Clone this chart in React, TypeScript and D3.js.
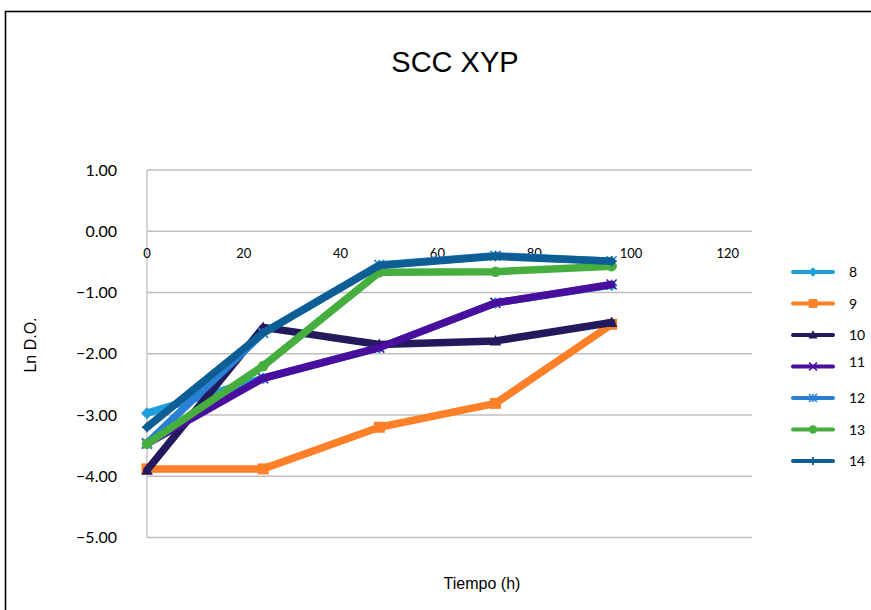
import React from "react";
import * as d3 from "d3";

const hours = [0, 24, 48, 72, 96];
const seriesNames = ["8", "9", "10", "11", "12", "13", "14"];
const s8 = [-2.97, -2.4, -1.9, -1.17, -0.88];
const s9 = [-3.88, -3.88, -3.2, -2.81, -1.52];
const s10 = [-3.9, -1.57, -1.85, -1.79, -1.49];
const s11 = [-3.47, -2.4, -1.9, -1.17, -0.87];
const s12 = [-3.46, -1.66, -0.55, -0.4, -0.49];
const s13 = [-3.47, -2.2, -0.67, -0.66, -0.57];
const s14 = [-3.2, -1.66, -0.56, -0.41, -0.49];
const seriesValues = [s8, s9, s10, s11, s12, s13, s14];
const colors = ["#1FA0DC", "#FD7F28", "#231A5E", "#4A0E9E", "#2B80D6", "#46AE3E", "#0D5E94"];
const markers = ["diamond", "square", "triangle", "x", "asterisk", "circle", "plus"];
const yTicks = [1, 0, -1, -2, -3, -4, -5];
const xTicks = [0, 20, 40, 60, 80, 100, 120];

const W = 871, H = 610;
const left = 147, right = 752, top = 170, bottom = 537.5;

function Marker({ type, x, y, color, s }: { type: string; x: number; y: number; color: string; s: number }) {
  const h = s / 2;
  switch (type) {
    case "diamond":
      return <path d={`M${x},${y - h * 1.2}L${x + h * 1.2},${y}L${x},${y + h * 1.2}L${x - h * 1.2},${y}Z`} fill={color} />;
    case "square":
      return <rect x={x - h * 1.1} y={y - h * 1.1} width={s * 1.1} height={s * 1.1} fill={color} />;
    case "triangle":
      return <path d={`M${x},${y - h * 1.2}L${x + h * 1.15},${y + h * 0.9}L${x - h * 1.15},${y + h * 0.9}Z`} fill={color} />;
    case "circle":
      return <circle cx={x} cy={y} r={h * 1.05} fill={color} />;
    case "x":
      return (
        <path d={`M${x - h},${y - h}L${x + h},${y + h}M${x - h},${y + h}L${x + h},${y - h}`} stroke={color} strokeWidth={1.6} />
      );
    case "asterisk":
      return (
        <path
          d={`M${x - h},${y - h}L${x + h},${y + h}M${x - h},${y + h}L${x + h},${y - h}M${x},${y - h}L${x},${y + h}`}
          stroke={color}
          strokeWidth={1.6}
        />
      );
    case "plus":
      return <path d={`M${x - h},${y}L${x + h},${y}M${x},${y - h}L${x},${y + h}`} stroke={color} strokeWidth={1.8} />;
    default:
      return null;
  }
}

export default function App() {
  const x = d3.scaleLinear().domain([0, 125]).range([left, right]);
  const y = d3.scaleLinear().domain([1, -5]).range([top, bottom]);
  const line = d3
    .line<number>()
    .x((_, i) => x(hours[i]))
    .y((d) => y(d));

  const legendX = 793;
  const legendY0 = 272;
  const legendStep = 31.5;

  return (
    <svg
      width={W}
      height={H}
      style={{ position: "absolute", left: 0, top: 0, background: "#fff" }}
      fontFamily="Lato, 'Open Sans', sans-serif"
    >
      <rect x={0} y={0} width={W} height={H} fill="#fff" />
      <rect x={5.5} y={11.5} width={W + 10} height={H + 10} fill="none" stroke="#000" strokeWidth={1.6} />
      <text x={455} y={72} textAnchor="middle" fontFamily="'Liberation Sans', Arial, sans-serif" fontSize={29} fill="#000">
        SCC XYP
      </text>
      {/* gridlines */}
      {yTicks.map((t) => (
        <line key={t} x1={left} x2={right} y1={y(t)} y2={y(t)} stroke="#BFBFBF" strokeWidth={1.3} />
      ))}
      <line x1={left} x2={left} y1={top} y2={bottom} stroke="#BFBFBF" strokeWidth={1.3} />
      {/* y tick labels */}
      {yTicks.map((t) => (
        <text key={t} x={117} y={y(t) + 5.5} textAnchor="end" fontSize={16} fill="#000">
          {d3.format(".2f")(t)}
        </text>
      ))}
      {/* x tick labels */}
      {xTicks.map((t) => (
        <text key={t} x={x(t)} y={y(0) + 27} textAnchor="middle" fontSize={13} fill="#000">
          {t}
        </text>
      ))}
      {/* axis titles */}
      <text x={482} y={589} textAnchor="middle" fontFamily="'Liberation Sans', Arial, sans-serif" fontSize={16} fill="#000">
        Tiempo (h)
      </text>
      <text
        transform={`translate(36,${345}) rotate(-90)`}
        textAnchor="middle"
        fontFamily="'Liberation Sans', Arial, sans-serif"
        fontSize={16}
        fill="#000"
      >
        Ln D.O.
      </text>
      {/* series */}
      {seriesValues.map((vals, si) => (
        <g key={seriesNames[si]}>
          <path
            d={line(vals) || ""}
            fill="none"
            stroke={colors[si]}
            strokeWidth={7.5}
            strokeLinejoin="round"
            strokeLinecap="round"
          />
          {vals.map((v, i) => (
            <Marker key={i} type={markers[si]} x={x(hours[i])} y={y(v)} color={colors[si]} s={10} />
          ))}
        </g>
      ))}
      {/* legend */}
      {seriesNames.map((n, i) => {
        const ly = legendY0 + i * legendStep;
        return (
          <g key={n}>
            <line x1={legendX} x2={legendX + 40} y1={ly} y2={ly} stroke={colors[i]} strokeWidth={4} strokeLinecap="round" />
            <Marker type={markers[i]} x={legendX + 20} y={ly} color={colors[i]} s={8} />
            <text x={849} y={ly + (i === 3 ? 0 : 5)} fontSize={14} fill="#000">
              {n}
            </text>
          </g>
        );
      })}
    </svg>
  );
}
